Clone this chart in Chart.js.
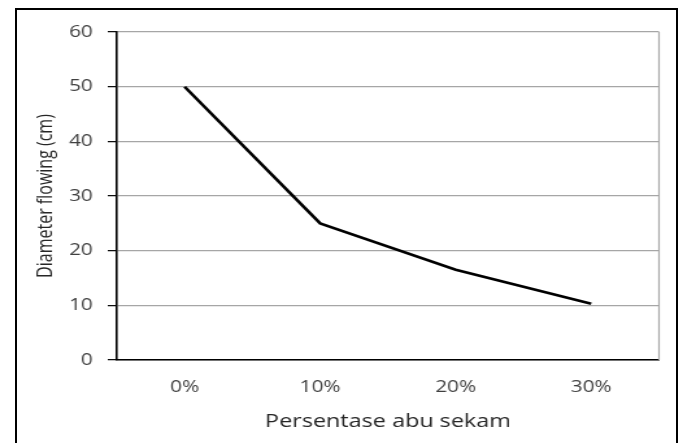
<!DOCTYPE html>
<html>
<head>
<meta charset="utf-8">
<script src="https://cdn.jsdelivr.net/npm/chart.js@4/dist/chart.umd.min.js"></script>
<style>
  html, body { margin: 0; padding: 0; background: #fff; }
  #wrap { position: relative; width: 683px; height: 443px; overflow: hidden; background: #fff; }
  #frame { position: absolute; left: 15px; top: 8px; width: 659px; height: 460px;
           border: 2px solid #000; box-sizing: content-box; pointer-events: none; }
  /* the figure is drawn narrow and widened horizontally */
  canvas { position: absolute; left: 0; top: 0; transform-origin: 0 0; transform: scaleX(1.2985); }
</style>
</head>
<body>
<div id="wrap">
  <canvas id="c" width="526" height="443"></canvas>
  <div id="frame"></div>
</div>
<script>
// Diameter of flow versus percentage of rice husk ash
const categories = ['0%', '10%', '20%', '30%'];
const diameter = [50, 25, 16.5, 10.3];
const yTicks = [0, 10, 20, 30, 40, 50, 60];

const font = "'Open Sans', 'DejaVu Sans', sans-serif";
const W = 526;

// Plot box within the (unstretched) canvas
const PLOT = { left: 90, right: 507.5, top: 32, bottom: 360 };

// Gray right edge of the plot area
const plotBorder = {
  id: 'plotBorder',
  afterDatasetsDraw(chart) {
    const { ctx, chartArea: a } = chart;
    ctx.save();
    ctx.strokeStyle = '#a6a6a6';
    ctx.lineWidth = 1.2;
    ctx.beginPath();
    ctx.moveTo(a.right, a.top);
    ctx.lineTo(a.right, a.bottom);
    ctx.stroke();
    ctx.restore();
  }
};

new Chart(document.getElementById('c'), {
  type: 'line',
  data: {
    labels: categories,
    datasets: [{
      data: diameter,
      borderColor: '#000',
      borderWidth: 2.6,
      pointRadius: 0,
      tension: 0,
      fill: false
    }]
  },
  options: {
    responsive: false,
    animation: false,
    devicePixelRatio: 1,
    layout: { padding: { top: PLOT.top, right: W - PLOT.right, left: 0, bottom: 0 } },
    plugins: { legend: { display: false }, tooltip: { enabled: false } },
    scales: {
      x: {
        offset: true,
        grid: { display: false, drawTicks: false, offset: true },
        border: { color: '#000', width: 1.6 },
        ticks: { color: '#404040', font: { family: font, size: 16 }, padding: 18 },
        title: {
          display: true, text: 'Persentase abu sekam', color: '#262626',
          font: { family: font, size: 18 }, padding: { top: 0, bottom: 10.7 }
        },
        afterFit(s) { s.height = 443 - PLOT.bottom; }
      },
      y: {
        min: 0, max: 60,
        afterBuildTicks(s) { s.ticks = yTicks.map(v => ({ value: v })); },
        grid: { color: '#a6a6a6', lineWidth: 1.3, tickLength: 7, tickColor: '#000', tickWidth: 1.2 },
        border: { color: '#000', width: 1.6 },
        ticks: { color: '#404040', font: { family: font, size: 16 }, padding: 11.5 },
        title: {
          display: true, text: 'Diameter flowing (cm)', color: '#262626',
          font: { family: font, size: 16 }, padding: { top: 26, bottom: 0 }
        },
        afterFit(s) { s.width = PLOT.left; }
      }
    }
  },
  plugins: [plotBorder]
});
</script>
</body>
</html>
